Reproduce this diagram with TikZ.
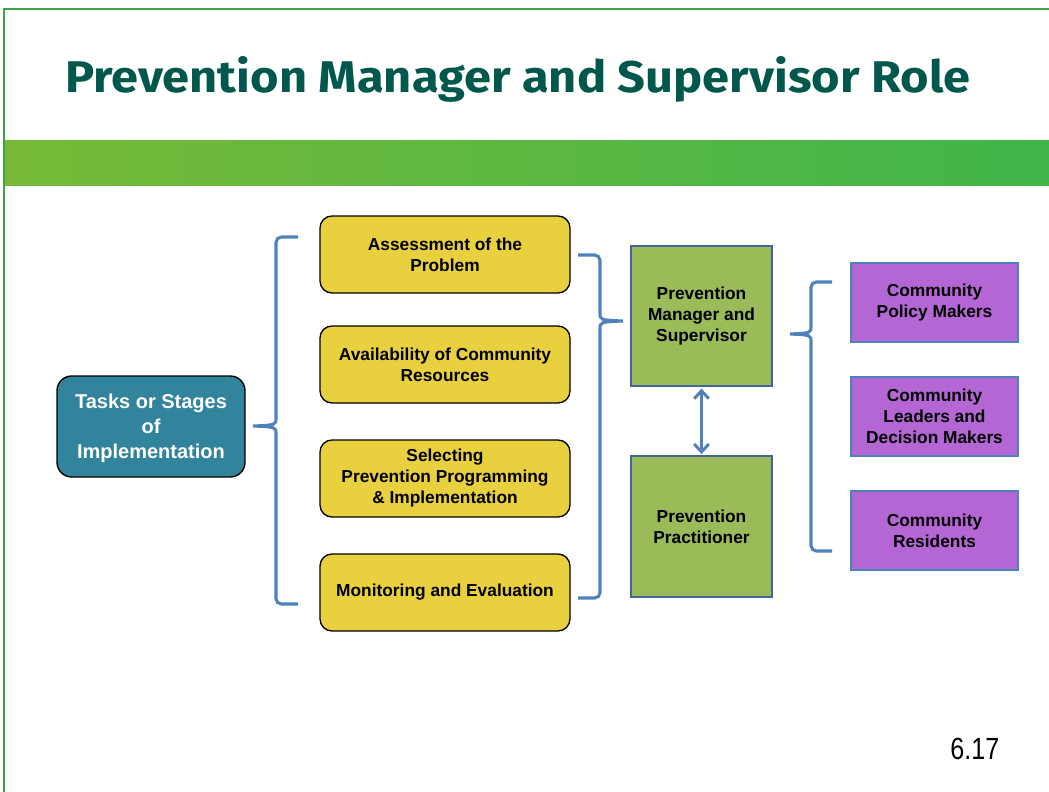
\documentclass[tikz,border=0pt]{standalone}
\usepackage{fontspec}
\setmainfont{Liberation Sans}
\newfontfamily\titlefont{Fira Sans}
\usetikzlibrary{arrows.meta}

\definecolor{titlegreen}{HTML}{00574C}
\definecolor{framegreen}{HTML}{3FA14A}
\definecolor{bandleft}{HTML}{78BA38}
\definecolor{bandright}{HTML}{3FB54A}
\definecolor{taskyellow}{HTML}{E8D03E}
\definecolor{stageteal}{HTML}{31849B}
\definecolor{roleolive}{HTML}{9BBB59}
\definecolor{rolepurple}{HTML}{B466D5}
\definecolor{braceblue}{HTML}{4F81BD}

\tikzset{
  boxtext/.style={align=center, font=\fontsize{13}{15.75}\selectfont\bfseries},
  stagebox/.style={boxtext, draw=black, line width=1pt, fill=stageteal, text=white,
    rounded corners=11pt, minimum width=141pt, minimum height=75.75pt,
    font=\fontsize{15}{18.75}\selectfont\bfseries},
  taskbox/.style={boxtext, draw=black, line width=1pt, fill=taskyellow,
    rounded corners=9pt, minimum width=187.5pt, minimum height=57.75pt},
  rolebox/.style={boxtext, draw=braceblue!80!black, line width=0.8pt, fill=roleolive,
    minimum width=105.75pt, minimum height=105pt},
  groupbox/.style={boxtext, draw=braceblue, line width=0.8pt, fill=rolepurple,
    minimum width=125.25pt, minimum height=59.25pt},
  bracket/.style={draw=braceblue, line width=2.3pt},
}

\begin{document}
\begin{tikzpicture}[x=0.75pt, y=-0.75pt]
  \useasboundingbox (0,0) rectangle (1049,792);

  % frame and header band
  \shade[left color=bandleft, right color=bandright] (4,140) rectangle (1049,185);
  \draw[framegreen, line width=1.5pt] (4,792) -- (4,9) -- (1049,9);

  \node[anchor=base west, inner sep=0pt, text=titlegreen] (title) at (65,92)
    {\resizebox{678.75pt}{27pt}{\titlefont\bfseries Prevention Manager and Supervisor Role}};

  % stages
  \node[stagebox] (stages) at (151,426.5) {\strut Tasks or Stages\\of\\Implementation};

  \node[taskbox] (t1) at (445,254.5) {Assessment of the\\Problem};
  \node[taskbox] (t2) at (445,364.5) {Availability of Community\\Resources};
  \node[taskbox] (t3) at (445,478.5) {Selecting\\Prevention Programming\\\& Implementation};
  \node[taskbox] (t4) at (445,592.5) {Monitoring and Evaluation};

  % roles
  \node[rolebox] (manager) at (701.5,316) {Prevention\\Manager and\\Supervisor};
  \node[rolebox, minimum height=105.75pt] (practitioner) at (701.5,526.5) {Prevention\\Practitioner};

  \node[groupbox] (g1) at (934.5,302.5) {Community\\Policy Makers};
  \node[groupbox] (g2) at (934.5,416.5) {Community\\Leaders and\\Decision Makers};
  \node[groupbox] (g3) at (934.5,530.5) {Community\\Residents};

  % braces
  \coordinate (b1top) at (298,237);
  \coordinate (b1tip) at (253,426);
  \coordinate (b1bot) at (298,604);
  \draw[bracket] (b1top) [rounded corners=4pt] -- (276,237) -- (276,300) [sharp corners]
    -- (276,418) .. controls (276,425) .. (b1tip) .. controls (276,427) .. (276,434)
    [rounded corners=4pt] -- (276,604) -- (b1bot);

  \coordinate (b2top) at (578,255);
  \coordinate (b2tip) at (623,321);
  \coordinate (b2bot) at (578,598);
  \draw[bracket] (b2top) [rounded corners=4pt] -- (600,255) -- (600,290) [sharp corners]
    -- (600,313) .. controls (600,320) .. (b2tip) .. controls (600,322) .. (600,329)
    [rounded corners=4pt] -- (600,598) -- (b2bot);

  \coordinate (b3top) at (832,282);
  \coordinate (b3tip) at (790,334);
  \coordinate (b3bot) at (832,551);
  \draw[bracket] (b3top) [rounded corners=4pt] -- (811,282) -- (811,310) [sharp corners]
    -- (811,326) .. controls (811,333) .. (b3tip) .. controls (811,335) .. (811,342)
    [rounded corners=4pt] -- (811,551) -- (b3bot);

  \draw[braceblue, line width=2.2pt, {Straight Barb[length=6pt,width=11pt]}-{Straight Barb[length=6pt,width=11pt]}]
    ([yshift=-1.5pt]manager.south) -- ([yshift=1pt]practitioner.north);

  \node[anchor=base east, font=\fontsize{23}{26}\selectfont] (page) at (1004,759)
    {\scalebox{0.82}[1]{6.17}};
\end{tikzpicture}
\end{document}
